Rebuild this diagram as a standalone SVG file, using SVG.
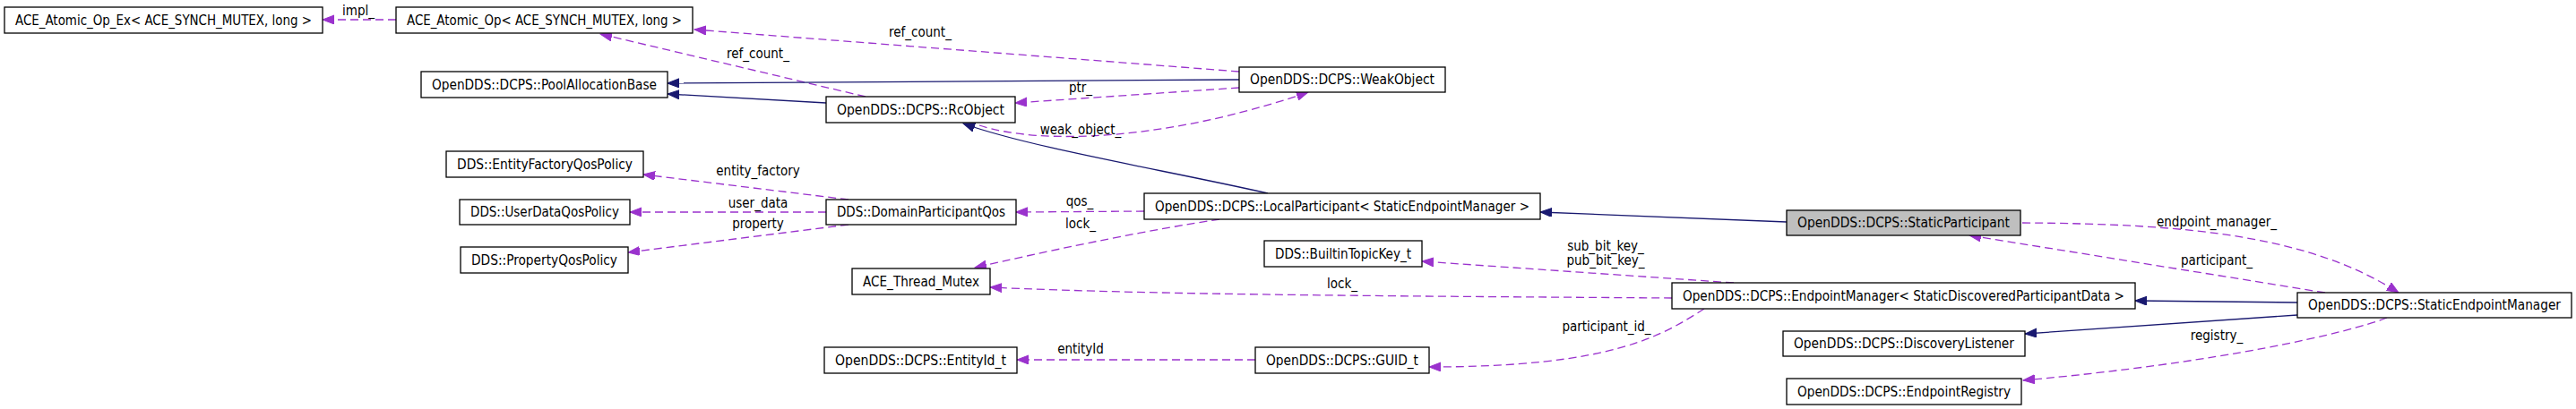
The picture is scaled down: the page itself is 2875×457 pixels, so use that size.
<svg xmlns="http://www.w3.org/2000/svg" width="2875" height="457" viewBox="0 0 2875 457">
<style>
.box{fill:#fff;stroke:#000;stroke-width:1.3}
.hl{fill:#bfbfbf;stroke:#000;stroke-width:1.3}
text{font-family:"DejaVu Sans Condensed","DejaVu Sans","Liberation Sans",sans-serif;font-size:15px;fill:#000;text-anchor:middle}
.u{fill:none;stroke:#9a32cd;stroke-width:1.3;stroke-dasharray:9,5;marker-end:url(#ap)}
.i{fill:none;stroke:#191970;stroke-width:1.3;marker-end:url(#an)}
</style>
<defs>
<marker id="ap" markerUnits="userSpaceOnUse" markerWidth="14" markerHeight="12" refX="13" refY="5" orient="auto"><path d="M0,0 L13,5 L0,10 z" fill="#9a32cd" stroke="#9a32cd"/></marker>
<marker id="an" markerUnits="userSpaceOnUse" markerWidth="14" markerHeight="12" refX="13" refY="5" orient="auto"><path d="M0,0 L13,5 L0,10 z" fill="#191970" stroke="#191970"/></marker>
</defs>
<rect width="2875" height="457" fill="#fff"/>
<g id="connectors">
<path class="u" d="M442,22 L360,22"/>
<text x="400" y="17">impl_</text>
<path class="u" d="M1383,80 L775,33"/>
<text x="1027" y="41">ref_count_</text>
<path class="u" d="M966,108 L670,38"/>
<text x="846" y="65">ref_count_</text>
<path class="i" d="M1383,89 L745,93"/>
<path class="i" d="M922,115 L745,105"/>
<path class="u" d="M1383,98 L1133,115"/>
<text x="1206" y="103">ptr_</text>
<path class="u" d="M1093,140 C1160,162 1300,158 1460,103"/>
<text x="1206" y="150">weak_object_</text>
<path class="i" d="M1415,216 C1300,190 1150,165 1075,138"/>
<path class="u" d="M947,223 L718,195"/>
<text x="846" y="196">entity_factory</text>
<path class="u" d="M922,237 L703,237"/>
<text x="846" y="232">user_data</text>
<path class="u" d="M947,251 L701,282"/>
<text x="846" y="255">property</text>
<path class="u" d="M1277,236 L1134,237"/>
<text x="1205" y="230">qos_</text>
<path class="u" d="M1361,245 Q1250,262 1088,299"/>
<text x="1206" y="255">lock_</text>
<path class="u" d="M1866,333 C1600,331 1300,330 1105,321"/>
<text x="1498" y="322">lock_</text>
<path class="u" d="M1935,316 L1587,292"/>
<text x="1792" y="280">sub_bit_key_</text>
<text x="1792" y="296">pub_bit_key_</text>
<path class="i" d="M1994,248 L1719,237"/>
<path class="u" d="M1902,345 C1855,375 1800,410 1595,410"/>
<text x="1793" y="370">participant_id_</text>
<path class="u" d="M1401,402 L1135,402"/>
<text x="1206" y="395">entityId</text>
<path class="u" d="M2257,249 C2450,250 2580,265 2677,327"/>
<text x="2474" y="253">endpoint_manager_</text>
<path class="u" d="M2595,327 L2198,263"/>
<text x="2474" y="296">participant_</text>
<path class="i" d="M2564,338 L2383,336"/>
<path class="i" d="M2564,352 L2260,373"/>
<path class="u" d="M2664,355 C2620,372 2480,405 2258,425"/>
<text x="2474" y="380">registry_</text>
</g>
<g id="n_opex"><rect class="box" x="5" y="8" width="355" height="29"/><text x="182.5" y="27.5" textLength="331" lengthAdjust="spacingAndGlyphs">ACE_Atomic_Op_Ex&lt; ACE_SYNCH_MUTEX, long &gt;</text></g>
<g id="n_op"><rect class="box" x="442" y="8" width="331" height="29"/><text x="607.5" y="27.5" textLength="307" lengthAdjust="spacingAndGlyphs">ACE_Atomic_Op&lt; ACE_SYNCH_MUTEX, long &gt;</text></g>
<g id="n_pab"><rect class="box" x="470" y="80" width="275" height="29"/><text x="607.5" y="99.5" textLength="251" lengthAdjust="spacingAndGlyphs">OpenDDS::DCPS::PoolAllocationBase</text></g>
<g id="n_weak"><rect class="box" x="1383" y="75" width="230" height="28"/><text x="1498" y="94" textLength="206" lengthAdjust="spacingAndGlyphs">OpenDDS::DCPS::WeakObject</text></g>
<g id="n_rc"><rect class="box" x="922" y="108" width="211" height="29"/><text x="1027.5" y="127.5" textLength="187" lengthAdjust="spacingAndGlyphs">OpenDDS::DCPS::RcObject</text></g>
<g id="n_efq"><rect class="box" x="498" y="169" width="220" height="29"/><text x="608" y="188.5" textLength="196" lengthAdjust="spacingAndGlyphs">DDS::EntityFactoryQosPolicy</text></g>
<g id="n_udq"><rect class="box" x="513" y="223" width="190" height="28"/><text x="608" y="242" textLength="166" lengthAdjust="spacingAndGlyphs">DDS::UserDataQosPolicy</text></g>
<g id="n_pq"><rect class="box" x="514" y="276" width="187" height="29"/><text x="607.5" y="295.5" textLength="163" lengthAdjust="spacingAndGlyphs">DDS::PropertyQosPolicy</text></g>
<g id="n_dpq"><rect class="box" x="922" y="223" width="212" height="28"/><text x="1028" y="242" textLength="188" lengthAdjust="spacingAndGlyphs">DDS::DomainParticipantQos</text></g>
<g id="n_mutex"><rect class="box" x="951" y="300" width="154" height="29"/><text x="1028" y="319.5" textLength="130" lengthAdjust="spacingAndGlyphs">ACE_Thread_Mutex</text></g>
<g id="n_lp"><rect class="box" x="1277" y="216" width="442" height="29"/><text x="1498" y="235.5" textLength="418" lengthAdjust="spacingAndGlyphs">OpenDDS::DCPS::LocalParticipant&lt; StaticEndpointManager &gt;</text></g>
<g id="n_sp"><rect class="hl" x="1994" y="235" width="261" height="28"/><text x="2124.5" y="254" textLength="237" lengthAdjust="spacingAndGlyphs">OpenDDS::DCPS::StaticParticipant</text></g>
<g id="n_btk"><rect class="box" x="1411" y="269" width="176" height="29"/><text x="1499" y="288.5" textLength="152" lengthAdjust="spacingAndGlyphs">DDS::BuiltinTopicKey_t</text></g>
<g id="n_em"><rect class="box" x="1866" y="316" width="517" height="29"/><text x="2124.5" y="335.5" textLength="493" lengthAdjust="spacingAndGlyphs">OpenDDS::DCPS::EndpointManager&lt; StaticDiscoveredParticipantData &gt;</text></g>
<g id="n_sem"><rect class="box" x="2564" y="327" width="306" height="28"/><text x="2717" y="346" textLength="282" lengthAdjust="spacingAndGlyphs">OpenDDS::DCPS::StaticEndpointManager</text></g>
<g id="n_dl"><rect class="box" x="1990" y="370" width="270" height="28"/><text x="2125" y="389" textLength="246" lengthAdjust="spacingAndGlyphs">OpenDDS::DCPS::DiscoveryListener</text></g>
<g id="n_er"><rect class="box" x="1994" y="423" width="262" height="29"/><text x="2125" y="442.5" textLength="238" lengthAdjust="spacingAndGlyphs">OpenDDS::DCPS::EndpointRegistry</text></g>
<g id="n_eid"><rect class="box" x="920" y="388" width="215" height="29"/><text x="1027.5" y="407.5" textLength="191" lengthAdjust="spacingAndGlyphs">OpenDDS::DCPS::EntityId_t</text></g>
<g id="n_guid"><rect class="box" x="1401" y="388" width="194" height="29"/><text x="1498" y="407.5" textLength="170" lengthAdjust="spacingAndGlyphs">OpenDDS::DCPS::GUID_t</text></g>
</svg>
